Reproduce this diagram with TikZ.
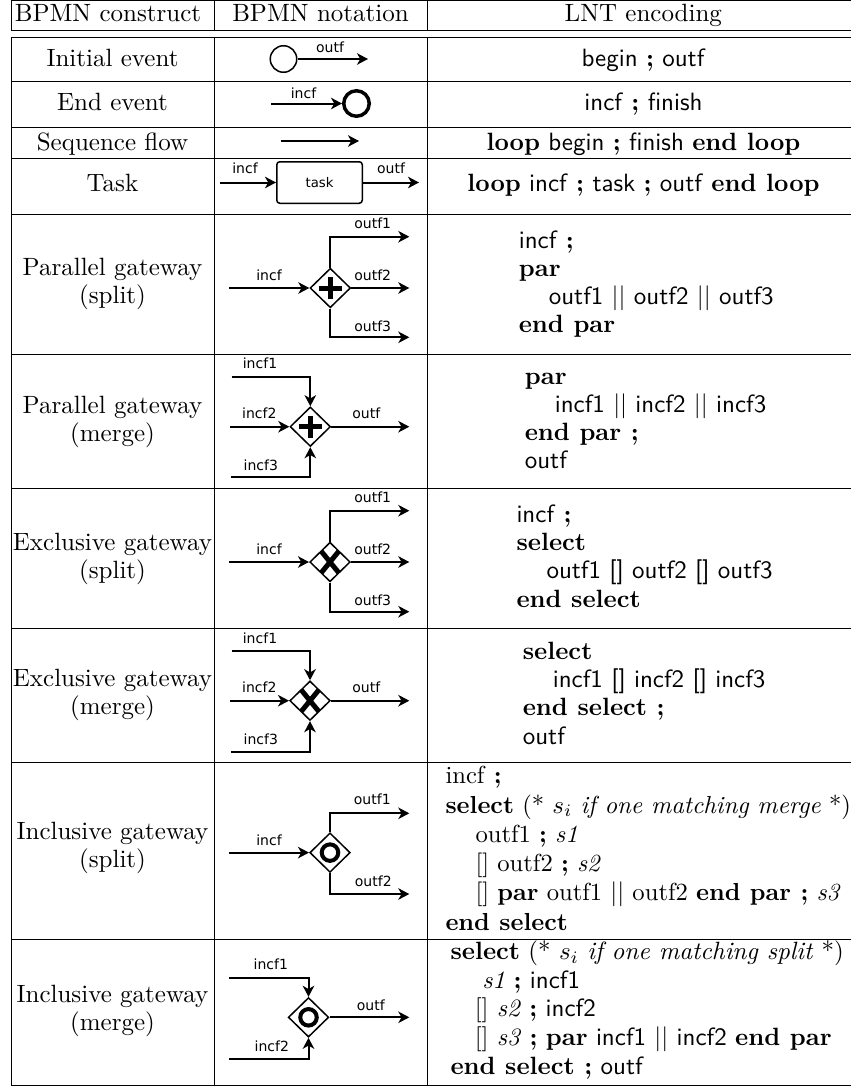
\documentclass[tikz,border=0pt]{standalone}
\usepackage{fontspec}
\newfontfamily\dejavu{DejaVu Sans}
\usetikzlibrary{shapes.geometric, arrows.meta}

\begin{document}
\begin{tikzpicture}[
            x = 0.4pt, y = -0.4pt,
            rule/.style = {draw, line width = 0.4pt},
            txt/.style = {inner sep = 0mm, font = \fontsize{10}{11.2}\selectfont},
            cell/.style = {txt, align = center},
            lnt/.style = {inner sep = 0mm, align = left, anchor = west, font = \fontsize{10}{11.3}\selectfont},
            lbl/.style = {inner sep = 0mm, font = \dejavu\fontsize{5.6}{6}\selectfont},
            arr/.style = {draw, line width = 0.8pt, -{Stealth[length = 4.4pt, width = 4.6pt, inset = 1.3pt]}},
            startev/.style = {draw, circle, inner sep = 0mm, minimum size = 10.6pt, line width = 0.6pt},
            endev/.style = {draw, circle, inner sep = 0mm, minimum size = 10.2pt, line width = 1.4pt},
            taskbox/.style = {draw, rounded corners = 1.2pt, inner sep = 0mm, minimum width = 34.2pt, minimum height = 16.6pt, line width = 0.6pt, font = \dejavu\fontsize{5.3}{6}\selectfont},
            gate/.style = {draw, diamond, inner sep = 0mm, minimum width = 16.2pt, minimum height = 15.8pt, line width = 0.6pt},
            plusgw/.style = {gate, path picture = {
                \draw[line width = 2pt] ([xshift = -4.6pt]path picture bounding box.center) -- ([xshift = 4.6pt]path picture bounding box.center)
                    ([yshift = -4.4pt]path picture bounding box.center) -- ([yshift = 4.4pt]path picture bounding box.center);}},
            xorgw/.style = {gate, path picture = {
                \draw[line width = 2pt] ([shift = {(-3.5pt, -4.3pt)}]path picture bounding box.center) -- ([shift = {(3.5pt, 4.3pt)}]path picture bounding box.center)
                    ([shift = {(-3.5pt, 4.3pt)}]path picture bounding box.center) -- ([shift = {(3.5pt, -4.3pt)}]path picture bounding box.center);}},
            orgw/.style = {gate, path picture = {
                \draw[line width = 1.6pt] (path picture bounding box.center) circle [radius = 3.3pt];}},
        ]
        \useasboundingbox (0,0) rectangle (851,1086);

        % table rules
        \path[rule] (11,0.5) -- (851,0.5) (11,30) -- (851,30)
            (11,37.3) -- (851,37.3) (11,81.7) -- (851,81.7) (11,127.3) -- (851,127.3)
            (11,158.3) -- (851,158.3) (11,214) -- (851,214) (11,354) -- (851,354)
            (11,488) -- (851,488) (11,628) -- (851,628) (11,762) -- (851,762)
            (11,939) -- (851,939) (11,1085.5) -- (851,1085.5);
        \path[rule] (11,0.5) -- (11,30) (214,0.5) -- (214,30) (427,0.5) -- (427,30)
            (11,37.3) -- (11,1085.5) (214,37.3) -- (214,1085.5) (427,37.3) -- (427,1085.5);

        % header
        \node (hc) [cell, anchor = base] at (108,21.7) {BPMN construct};
        \node (hn) [cell, anchor = base] at (320.5,21.7) {BPMN notation};
        \node (hl) [cell, anchor = base] at (643.3,21.7) {LNT encoding};

        % first column
        \node (cie) [cell, anchor = base] at (112.5,66) {Initial event};
        \node (cee) [cell, anchor = base] at (112.5,110) {End event};
        \node (csf) [cell, anchor = base] at (112.5,150) {Sequence flow};
        \node (ctk) [cell, anchor = base] at (112.5,191.7) {Task};
        \node (cpgs) [cell] at (112.5,284) {Parallel gateway\\(split)};
        \node (cpgm) [cell] at (112.5,422) {Parallel gateway\\(merge)};
        \node (cxgs) [cell] at (112.5,559) {Exclusive gateway\\(split)};
        \node (cxgm) [cell] at (112.5,695) {Exclusive gateway\\(merge)};
        \node (cigs) [cell] at (112.5,848) {Inclusive gateway\\(split)};
        \node (cigm) [cell] at (112.5,1011) {Inclusive gateway\\(merge)};

        % initial event
        \node (ie) [startev] at (283.5,59) {};
        \coordinate (ieo) at (368,59);
        \path[arr] (ie) -- (ieo);
        \node (ieol) [lbl] at (330,47.5) {outf};

        % end event
        \node (ee) [endev] at (356.5,103.5) {};
        \coordinate (eei) at (271.3,103.5);
        \path[arr] (eei) -- (ee);
        \node (eeil) [lbl] at (303.5,93.3) {incf};

        % sequence flow
        \coordinate (sf0) at (280.7,141);
        \coordinate (sf1) at (359,141);
        \path[arr] (sf0) -- (sf1);

        % task
        \node (tk) [taskbox] at (319.5,182.5) {task};
        \coordinate (tki) at (220,182.5);
        \coordinate (tko) at (419,182.5);
        \path[arr] (tki) -- (tk);
        \path[arr] (tk) -- (tko);
        \node (tkil) [lbl] at (245,168.3) {incf};
        \node (tkol) [lbl] at (391,168.3) {outf};

        % parallel gateway, split
        \node (pgs) [plusgw] at (330.3,288) {};
        \coordinate (pgsi) at (229.3,288);
        \coordinate (pgso1) at (409.3,236.7);
        \coordinate (pgso2) at (409.3,288);
        \coordinate (pgso3) at (409.3,337.3);
        \path[arr] (pgsi) -- (pgs);
        \path[arr] (pgs) |- (pgso1);
        \path[arr] (pgs) -- (pgso2);
        \path[arr] (pgs) |- (pgso3);
        \node (pgsil) [lbl] at (269,275.3) {incf};
        \node (pgsol1) [lbl] at (372.7,223.3) {outf1};
        \node (pgsol2) [lbl] at (372.7,275) {outf2};
        \node (pgsol3) [lbl] at (372.7,326.7) {outf3};

        % parallel gateway, merge
        \node (pgm) [plusgw] at (310.3,426.7) {};
        \coordinate (pgmi1) at (231.7,376.7);
        \coordinate (pgmi2) at (230,426.7);
        \coordinate (pgmi3) at (230.7,477.3);
        \coordinate (pgmo) at (409.3,426.7);
        \path[arr] (pgmi1) -| (pgm);
        \path[arr] (pgmi2) -- (pgm);
        \path[arr] (pgmi3) -| (pgm);
        \path[arr] (pgm) -- (pgmo);
        \node (pgmil1) [lbl] at (260,363.7) {incf1};
        \node (pgmil2) [lbl] at (259.3,413.3) {incf2};
        \node (pgmil3) [lbl] at (260.8,465) {incf3};
        \node (pgmol) [lbl] at (366.3,413.7) {outf};

        % exclusive gateway, split
        \node (xgs) [xorgw] at (330,562) {};
        \coordinate (xgsi) at (229.3,562);
        \coordinate (xgso1) at (409.3,510.7);
        \coordinate (xgso2) at (409.3,562);
        \coordinate (xgso3) at (409.3,611.7);
        \path[arr] (xgsi) -- (xgs);
        \path[arr] (xgs) |- (xgso1);
        \path[arr] (xgs) -- (xgso2);
        \path[arr] (xgs) |- (xgso3);
        \node (xgsil) [lbl] at (269,549.3) {incf};
        \node (xgsol1) [lbl] at (372.7,497.7) {outf1};
        \node (xgsol2) [lbl] at (372.7,549) {outf2};
        \node (xgsol3) [lbl] at (372.7,600.7) {outf3};

        % exclusive gateway, merge
        \node (xgm) [xorgw] at (310,700.7) {};
        \coordinate (xgmi1) at (231.7,651);
        \coordinate (xgmi2) at (230,700.7);
        \coordinate (xgmi3) at (230.7,751.7);
        \coordinate (xgmo) at (409.3,700.7);
        \path[arr] (xgmi1) -| (xgm);
        \path[arr] (xgmi2) -- (xgm);
        \path[arr] (xgmi3) -| (xgm);
        \path[arr] (xgm) -- (xgmo);
        \node (xgmil1) [lbl] at (260,638) {incf1};
        \node (xgmil2) [lbl] at (259.3,687.3) {incf2};
        \node (xgmil3) [lbl] at (260.8,739.2) {incf3};
        \node (xgmol) [lbl] at (366.3,687.3) {outf};

        % inclusive gateway, split
        \node (igs) [orgw] at (330,852.6) {};
        \coordinate (igsi) at (229.3,852.6);
        \coordinate (igso1) at (409.3,813.3);
        \coordinate (igso2) at (409.3,894);
        \path[arr] (igsi) -- (igs);
        \path[arr] (igs) |- (igso1);
        \path[arr] (igs) |- (igso2);
        \node (igsil) [lbl] at (269,840.5) {incf};
        \node (igsol1) [lbl] at (372.3,799.7) {outf1};
        \node (igsol2) [lbl] at (373.3,881.2) {outf2};

        % inclusive gateway, merge
        \node (igm) [orgw] at (308.5,1017.3) {};
        \coordinate (igmi1) at (229.3,977.7);
        \coordinate (igmi2) at (229.3,1059.3);
        \coordinate (igmo) at (409.3,1017.3);
        \path[arr] (igmi1) -| (igm);
        \path[arr] (igmi2) -| (igm);
        \path[arr] (igm) -- (igmo);
        \node (igmil1) [lbl] at (270.8,964.2) {incf1};
        \node (igmil2) [lbl] at (271.8,1045.8) {incf2};
        \node (igmol) [lbl] at (370.8,1005.3) {outf};

        % LNT encoding
        \node (lie) [cell, anchor = base] at (643.5,66) {\textsf{begin} \textbf{;} \textsf{outf}};
        \node (lee) [cell, anchor = base] at (643.5,110) {\textsf{incf} \textbf{;} \textsf{finish}};
        \node (lsf) [cell, anchor = base] at (643.5,150) {\textbf{loop} \textsf{begin} \textbf{;} \textsf{finish} \textbf{end loop}};
        \node (ltk) [cell, anchor = base] at (643.5,191.7) {\textbf{loop} \textsf{incf} \textbf{;} \textsf{task} \textbf{;} \textsf{outf} \textbf{end loop}};
        \node (lpgs) [lnt] at (518.3,284.2) {\textsf{incf} \textbf{;}\\
            \textbf{par}\\
            \hspace*{12pt}\textsf{outf1} $||$ \textsf{outf2} $||$ \textsf{outf3}\\
            \textbf{end par}};
        \node (lpgm) [lnt] at (524.3,421) {\textbf{par}\\
            \hspace*{12pt}\textsf{incf1} $||$ \textsf{incf2} $||$ \textsf{incf3}\\
            \textbf{end par ;}\\
            \textsf{outf}};
        \node (lxgs) [lnt] at (516,556) {\textsf{incf} \textbf{;}\\
            \textbf{select}\\
            \hspace*{12pt}\textsf{outf1 [] outf2 [] outf3}\\
            \textbf{end select}};
        \node (lxgm) [lnt] at (522.3,693.3) {\textbf{select}\\
            \hspace*{12pt}\textsf{incf1 [] incf2 [] incf3}\\
            \textbf{end select ;}\\
            \textsf{outf}};
        \node (ligs) [lnt, font = \fontsize{9.85}{11.7}\selectfont] at (445,848.3) {incf \textbf{;}\\
            \textbf{select} (* $s_i$ \textit{if one matching merge} *)\\
            \hspace*{12pt}outf1 \textbf{;} \textit{s1}\\
            \hspace*{12pt}[] outf2 \textbf{;} \textit{s2}\\
            \hspace*{12pt}[] \textbf{par} outf1 $||$ outf2 \textbf{end par ;} \textit{s3}\\
            \textbf{end select}};
        \node (ligm) [lnt, font = \fontsize{10}{11.5}\selectfont] at (450,1010) {\textbf{select} (* $s_i$ \textit{if one matching split} *)\\
            \hspace*{12.7pt}\textit{s1} \textbf{;} \textsf{incf1}\\
            \hspace*{9.7pt}[] \textit{s2} \textbf{;} \textsf{incf2}\\
            \hspace*{9.7pt}[] \textit{s3} \textbf{;} \textbf{par} \textsf{incf1} $||$ \textsf{incf2} \textbf{end par}\\
            \textbf{end select ;} \textsf{outf}};
    \end{tikzpicture}
\end{document}
